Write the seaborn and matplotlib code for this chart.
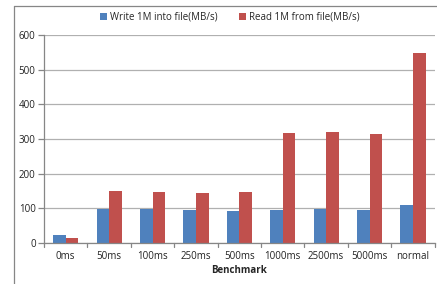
import pandas as pd
import matplotlib.pyplot as plt
import seaborn as sns
from matplotlib.lines import Line2D

benchmarks = ["0ms", "50ms", "100ms", "250ms", "500ms", "1000ms", "2500ms", "5000ms", "normal"]
write_speed = [24, 97, 97, 96, 93, 96, 97, 96, 110]
read_speed = [14, 149, 147, 145, 147, 316, 321, 313, 549]
series_names = ["Write 1M into file(MB/s)", "Read 1M from file(MB/s)"]

df = pd.DataFrame({
    "Benchmark": benchmarks * 2,
    "value": write_speed + read_speed,
    "series": [series_names[0]] * len(benchmarks) + [series_names[1]] * len(benchmarks),
})

sns.set_style("white")
plt.rcParams['font.family'] = ['Open Sans', 'DejaVu Sans']

fig = plt.figure(figsize=(4.37, 2.84), dpi=100)
ax = fig.add_axes([0.1007, 0.1444, 0.894, 0.7324])

sns.barplot(data=df, x="Benchmark", y="value", hue="series",
            palette=["#4F81BD", "#C0504D"], width=0.58, gap=0,
            saturation=1, linewidth=0, ax=ax, legend=True)

ax.set_ylim(0, 600)
ax.set_xlim(-0.5, len(benchmarks) - 0.5)
ax.set_yticks(range(0, 601, 100))
ax.yaxis.grid(True, color="#B0B0B0", linewidth=0.9)
ax.set_axisbelow(True)
for s in ["top", "right"]:
    ax.spines[s].set_visible(False)
for s in ["left", "bottom"]:
    ax.spines[s].set_color("#868686")
    ax.spines[s].set_linewidth(0.9)

ax.tick_params(axis="both", labelsize=7, colors="#868686", labelcolor="#222222",
               length=4, width=0.9)
ax.tick_params(axis="x", length=0, pad=6)
ax.tick_params(axis="y", left=True, direction="out", pad=2)
# category separators on x axis
for i in range(len(benchmarks) + 1):
    ax.plot([i - 0.5, i - 0.5], [0, -0.02], transform=ax.get_xaxis_transform(),
            color="#868686", lw=0.9, clip_on=False)

ax.set_xlabel("Benchmark", fontsize=7, fontweight="bold", labelpad=2)
ax.set_ylabel("")

handles, labels = ax.get_legend_handles_labels()
ax.legend(handles, labels, loc="center", bbox_to_anchor=(0.476, 1.086),
          ncol=2, frameon=False, fontsize=7, handlelength=0.7, handleheight=0.7,
          columnspacing=2.2, handletextpad=0.3)

# outer chart frame
fig.add_artist(Line2D([14 / 437, 14 / 437], [0, 1 - 6 / 284], color="#868686", lw=0.9))
fig.add_artist(Line2D([14 / 437, 1], [1 - 6 / 284, 1 - 6 / 284], color="#868686", lw=0.9))

fig.savefig("out.png", dpi=100)
